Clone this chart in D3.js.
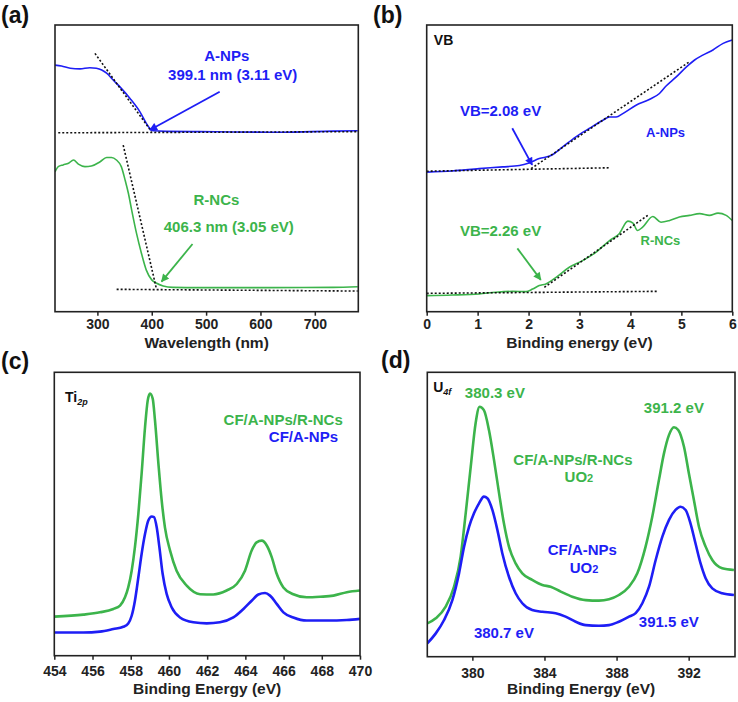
<!DOCTYPE html>
<meta charset="utf-8">
<style>
body { margin: 0; background: #fff; }
svg text { font-family: "Liberation Sans", Arial, Helvetica, sans-serif; font-weight: bold; }
.frame { fill: none; stroke: #222; stroke-width: 1.6px; }
.tick line { stroke: #222; stroke-width: 1.5px; }
.tick text { font-size: 14px; fill: #222; }
.fit { fill: none; stroke: #111; stroke-width: 1.6px; stroke-dasharray: 2,2; }
</style>
<body>
<script src="https://cdn.jsdelivr.net/npm/d3@7"></script>
<script>
var blue = "#1e1ef5",
    green = "#3cb44b";

// (a) UV-vis, wavelength (nm) vs absorbance (a.u., 0-100)
var uvTicks = [300, 400, 500, 600, 700];
var uvBlue = [[222,86],[234,85.7],[250,84.9],[268,84.7],[286,85.1],[298,84.9],[308,84.3],[317,83.2],[329,80.8],
  [344,77.9],[360,74.4],[378,69.8],[390,65.7],[398,63.6],[403,63.1],[427,62.9],[488,62.8],[550,62.7],[641,62.6],[733,63],[779,63.1]];
var uvGreen = [[222,48.8],[228,50.6],[237,51.2],[247,51.8],[256,52.9],[265,51.5],[277,50.6],[289,50.8],[305,52.3],[317,53.8],
  [326,53.8],[335,52.9],[344,50.6],[351,45.9],[357,41.3],[363,35.5],[372,27.3],[381,20.4],[390,14.5],[400,11.1],[409,9.9],
  [421,9],[439,8.5],[488,8.4],[611,8.4],[733,8.5],[779,8.7]];
var uvFits = [[[295.5,90.1],[399.6,62.8]], [[228,62.4],[779,62.8]], [[347.5,58.1],[408.8,7.8]], [[335.4,7.8],[779,7.2]]];

// (b) VB-XPS, binding energy (eV)
var vbTicks = [0, 1, 2, 3, 4, 5, 6];
var vbBlue = [[0,48.7],[0.5,49.1],[1.03,49.9],[1.49,50.5],[1.82,51],[2.01,51.9],[2.21,53.4],[2.44,54.5],[2.67,57.5],[2.93,61],
  [3.19,63.9],[3.46,66.8],[3.59,67.9],[3.72,67.9],[3.85,69.1],[4.11,72],[4.37,74],[4.57,76.1],[4.7,78.7],[4.9,81.9],[5.1,85.4],
  [5.26,87.8],[5.42,89.5],[5.62,91.3],[5.82,93.6],[6,94.8]];
var vbGreen = [[0,5.6],[0.5,5.8],[1.03,6.2],[1.36,6.8],[1.69,7.1],[1.95,7],[2.08,7.9],[2.21,9.1],[2.34,9.7],[2.54,12],[2.8,15.5],
  [3.06,17.8],[3.32,20.7],[3.59,24.8],[3.78,27.2],[3.95,31.6],[4.05,30.9],[4.14,28.3],[4.24,29.5],[4.44,33.2],[4.6,31.2],
  [4.77,31.8],[4.96,33],[5.16,33.6],[5.36,34.2],[5.55,33.6],[5.72,34.4],[5.88,33.6],[6,31.8]];
var vbFits = [[[0,49],[3.59,50.2]], [[2.05,49.9],[5.16,87.2]], [[0,6.4],[4.54,7.1]], [[2.31,8.5],[4.34,33.6]]];

// (c) Ti 2p
var tiTicks = [454, 456, 458, 460, 462, 464, 466, 468, 470];
var tiGreen = [[454,13.8],[455.52,14.5],[456.39,15.3],[457.09,16.5],[457.44,17.7],[457.7,20.6],[457.87,24.1],[458.05,30],
  [458.22,38.3],[458.4,50.1],[458.57,64.2],[458.75,80.7],[458.89,90.1],[459.01,92.5],[459.15,90.7],[459.27,83],[459.45,67.7],
  [459.62,54.8],[459.79,45.3],[460.06,37.1],[460.4,30],[460.93,24.7],[461.63,21.7],[462.32,21.6],[463.02,23],[463.55,25.3],
  [463.98,30],[464.33,37.1],[464.59,40],[464.86,40.6],[465.12,38.9],[465.38,34.8],[465.64,28.9],[465.99,24.1],[466.51,21.7],
  [467.21,20.6],[467.91,20.8],[468.61,21.2],[469.31,22.4],[470,23]];
var tiBlue = [[454,8.2],[455.52,8.2],[456.39,8.5],[457.09,9.4],[457.61,10.2],[457.87,11.4],[458.05,14.1],[458.22,19.4],
  [458.4,27.7],[458.57,35.9],[458.75,43],[458.92,47.7],[459.1,49.1],[459.22,48.9],[459.36,45.3],[459.5,38.3],[459.67,28.9],
  [459.88,21.8],[460.14,17.1],[460.58,13.5],[461.28,11.8],[461.98,11.4],[462.67,11.8],[463.37,13.5],[463.9,16.5],[464.33,19.4],
  [464.68,21.6],[465.03,22.1],[465.29,21.2],[465.64,18.3],[465.99,15.3],[466.51,13.5],[467.21,12.4],[468.26,12.4],[469.31,12.6],[470,13]];

// (d) U 4f
var uTicks = [380, 384, 388, 392];
var uGreen = [[377.5,11.7],[377.97,13.5],[378.52,17.6],[378.98,24.6],[379.35,35.2],[379.63,50.4],[379.91,66.8],[380.18,82.1],
  [380.4,87.9],[380.64,86.7],[380.92,79.7],[381.2,69.2],[381.48,57.5],[381.75,46.9],[382.03,38.7],[382.4,32.8],[382.77,29.3],
  [383.32,27],[383.88,25.2],[384.34,24.6],[384.9,22.9],[385.54,21.1],[386.29,19.9],[387.02,19.7],[387.58,20.2],[388.13,21.7],
  [388.69,24.6],[389.15,29.3],[389.61,38.7],[389.98,49.2],[390.35,62.1],[390.63,71.5],[390.91,78],[391.18,80.7],[391.42,79.7],
  [391.74,73.8],[392.01,64.5],[392.29,55.1],[392.57,45.7],[392.94,38.7],[393.31,34],[393.86,31.1],[394.51,30.5]];
var uBlue = [[377.5,4.7],[377.97,8.2],[378.43,12.9],[378.89,19.9],[379.26,29.3],[379.54,38.7],[379.82,45.7],[380.09,50.4],
  [380.37,53.9],[380.64,56.3],[380.83,55.7],[381.11,51.6],[381.39,44.5],[381.66,36.4],[382.03,28.1],[382.4,22.3],[382.77,18.8],
  [383.32,16.4],[383.88,15.8],[384.62,15.3],[385.17,14.1],[385.73,12.3],[386.29,11.1],[387.02,10.9],[387.58,11.1],[388.13,12.3],
  [388.69,14.1],[389.06,15.3],[389.43,18.8],[389.8,24.6],[390.17,34],[390.54,42.2],[390.91,48.1],[391.27,51.6],[391.55,52.7],
  [391.83,51.6],[392.1,46.9],[392.38,39.8],[392.66,32.8],[392.94,27.6],[393.31,24],[393.86,22.3],[394.51,21.7]];

var panels = [
  { tag: "(a)", tagX: 1, tagY: 23, xDomain: [222, 780], left: 55, right: 358.3, top: 25, bottom: 311.7,
    ticks: uvTicks, tickPad: 3, title: "Wavelength (nm)", titleY: 347.5, lw: 1.6,
    series: [[uvBlue, blue], [uvGreen, green]], fits: uvFits,
    arrows: [[[525,76.7],[396.5,63.4], "blue"], [[475,23.6],[418,10.5], "green"]],
    labels: [
      { parts: [["A-NPs"]], at: [538, 87.4], color: blue, size: 15, anchor: "middle" },
      { parts: [["399.1 nm (3.11 eV)"]], at: [549, 80.8], color: blue, size: 15, anchor: "middle" },
      { parts: [["R-NCs"]], at: [519, 37.2], color: green, size: 15, anchor: "middle" },
      { parts: [["406.3 nm (3.05 eV)"]], at: [541.7, 27.8], color: green, size: 15, anchor: "middle" }
    ] },
  { tag: "(b)", tagX: 373, tagY: 23, xDomain: [0, 6], left: 426.7, right: 732.3, top: 25, bottom: 311.7,
    ticks: vbTicks, tickPad: 3, title: "Binding energy (eV)", titleY: 347.5, lw: 1.6,
    series: [[vbBlue, blue], [vbGreen, green]], fits: vbFits,
    arrows: [[[1.68,64],[2.07,51.2], "blue"], [[1.78,22.1],[2.24,11.1], "green"]],
    labels: [
      { parts: [["VB"]], at: [0.14, 93], color: "#111", size: 14, anchor: "start" },
      { parts: [["VB=2.08 eV"]], at: [1.45, 68.3], color: blue, size: 15, anchor: "middle" },
      { parts: [["A-NPs"]], at: [4.69, 60.9], color: blue, size: 13, anchor: "middle" },
      { parts: [["VB=2.26 eV"]], at: [1.45, 26.4], color: green, size: 15, anchor: "middle" },
      { parts: [["R-NCs"]], at: [4.59, 23.3], color: green, size: 13, anchor: "middle" }
    ] },
  { tag: "(c)", tagX: 1, tagY: 369, xDomain: [454, 470], left: 54.3, right: 360, top: 372.3, bottom: 655.7,
    ticks: tiTicks, tickPad: 6, title: "Binding Energy (eV)", titleY: 694, lw: 2.6,
    series: [[tiGreen, green], [tiBlue, blue]], fits: [], arrows: [],
    labels: [
      { parts: [["Ti"], ["2p", "sub"]], at: [454.56, 89.6], color: "#111", size: 14, anchor: "start" },
      { parts: [["CF/A-NPs/R-NCs"]], at: [469.1, 81.4], color: green, size: 15, anchor: "end" },
      { parts: [["CF/A-NPs"]], at: [468.85, 75.5], color: blue, size: 15, anchor: "end" }
    ] },
  { tag: "(d)", tagX: 381, tagY: 368, xDomain: [377.5, 394.57], left: 427.3, right: 735, top: 372.3, bottom: 656.7,
    ticks: uTicks, tickPad: 7, title: "Binding Energy (eV)", titleY: 694, lw: 2.6,
    series: [[uGreen, green], [uBlue, blue]], fits: [], arrows: [],
    labels: [
      { parts: [["U"], ["4f", "sub"]], at: [377.83, 93.2], color: "#111", size: 14, anchor: "start" },
      { parts: [["380.3 eV"]], at: [381.25, 91.1], color: green, size: 15, anchor: "middle" },
      { parts: [["391.2 eV"]], at: [391.18, 85.6], color: green, size: 15, anchor: "middle" },
      { parts: [["CF/A-NPs/R-NCs"]], at: [385.58, 67.4], color: green, size: 15, anchor: "middle" },
      { parts: [["UO"], ["2", "small"]], at: [385.91, 61.5], color: green, size: 15, anchor: "middle" },
      { parts: [["CF/A-NPs"]], at: [386.1, 35.8], color: blue, size: 15, anchor: "middle" },
      { parts: [["UO"], ["2", "small"]], at: [386.19, 29.3], color: blue, size: 15, anchor: "middle" },
      { parts: [["380.7 eV"]], at: [381.75, 6.5], color: blue, size: 15, anchor: "middle" },
      { parts: [["391.5 eV"]], at: [390.9, 10.5], color: blue, size: 15, anchor: "middle" }
    ] }
];

var svg = d3.select("body").append("svg")
    .attr("width", 738)
    .attr("height", 702);

var defs = svg.append("defs");
[["blue", blue], ["green", green]].forEach(function (c) {
  defs.append("marker")
      .attr("id", "head-" + c[0])
      .attr("viewBox", "0 0 10 10")
      .attr("refX", 9).attr("refY", 5)
      .attr("markerWidth", 10).attr("markerHeight", 8)
      .attr("markerUnits", "userSpaceOnUse")
      .attr("orient", "auto")
    .append("path")
      .attr("d", "M0,0L10,5L0,10z")
      .attr("fill", c[1]);
});

panels.forEach(function (p) {
  var x = d3.scaleLinear().domain(p.xDomain).range([p.left, p.right]);
  var y = d3.scaleLinear().domain([0, 100]).range([p.bottom, p.top]);
  var g = svg.append("g");

  var clipId = "clip" + p.tag.replace(/\W/g, "");
  defs.append("clipPath").attr("id", clipId)
    .append("rect")
      .attr("x", p.left).attr("y", p.top)
      .attr("width", p.right - p.left).attr("height", p.bottom - p.top);

  var line = d3.line()
      .x(function (d) { return x(d[0]); })
      .y(function (d) { return y(d[1]); })
      .curve(d3.curveMonotoneX);

  var plot = g.append("g").attr("clip-path", "url(#" + clipId + ")");

  plot.selectAll(".series")
      .data(p.series)
    .enter().append("path")
      .attr("d", function (s) { return line(s[0]); })
      .attr("fill", "none")
      .attr("stroke", function (s) { return s[1]; })
      .attr("stroke-width", p.lw)
      .attr("stroke-linejoin", "round");

  plot.selectAll(".fit")
      .data(p.fits)
    .enter().append("path")
      .attr("class", "fit")
      .attr("d", d3.line().x(function (d) { return x(d[0]); }).y(function (d) { return y(d[1]); }));

  g.selectAll(".arrow")
      .data(p.arrows)
    .enter().append("line")
      .attr("x1", function (a) { return x(a[0][0]); })
      .attr("y1", function (a) { return y(a[0][1]); })
      .attr("x2", function (a) { return x(a[1][0]); })
      .attr("y2", function (a) { return y(a[1][1]); })
      .attr("stroke", function (a) { return a[2] === "blue" ? blue : green; })
      .attr("stroke-width", 1.8)
      .attr("marker-end", function (a) { return "url(#head-" + a[2] + ")"; });

  p.labels.forEach(function (l) {
    var t = g.append("text")
        .attr("x", x(l.at[0]))
        .attr("y", y(l.at[1]))
        .attr("text-anchor", l.anchor)
        .attr("fill", l.color)
        .style("font-size", l.size + "px");
    l.parts.forEach(function (part) {
      var s = t.append("tspan").text(part[0]);
      if (part[1] === "sub") {
        s.attr("dy", 3).style("font-size", "9px").style("font-style", "italic");
      } else if (part[1] === "small") {
        s.style("font-size", "11px");
      }
    });
  });

  g.append("rect")
      .attr("class", "frame")
      .attr("x", p.left).attr("y", p.top)
      .attr("width", p.right - p.left)
      .attr("height", p.bottom - p.top);

  var axis = g.append("g")
      .attr("transform", "translate(0," + p.bottom + ")")
      .call(d3.axisBottom(x)
        .tickValues(p.ticks)
        .tickSize(4)
        .tickSizeOuter(0)
        .tickPadding(p.tickPad)
        .tickFormat(d3.format("d")));
  axis.select(".domain").remove();
  axis.selectAll(".tick text").attr("font-family", null).attr("font-size", null);

  g.append("text")
      .attr("x", (p.left + p.right) / 2)
      .attr("y", p.titleY)
      .attr("text-anchor", "middle")
      .attr("fill", "#222")
      .style("font-size", "15.5px")
      .text(p.title);

  svg.append("text")
      .attr("x", p.tagX)
      .attr("y", p.tagY)
      .attr("fill", "#111")
      .style("font-size", "23px")
      .text(p.tag);
});
</script>
